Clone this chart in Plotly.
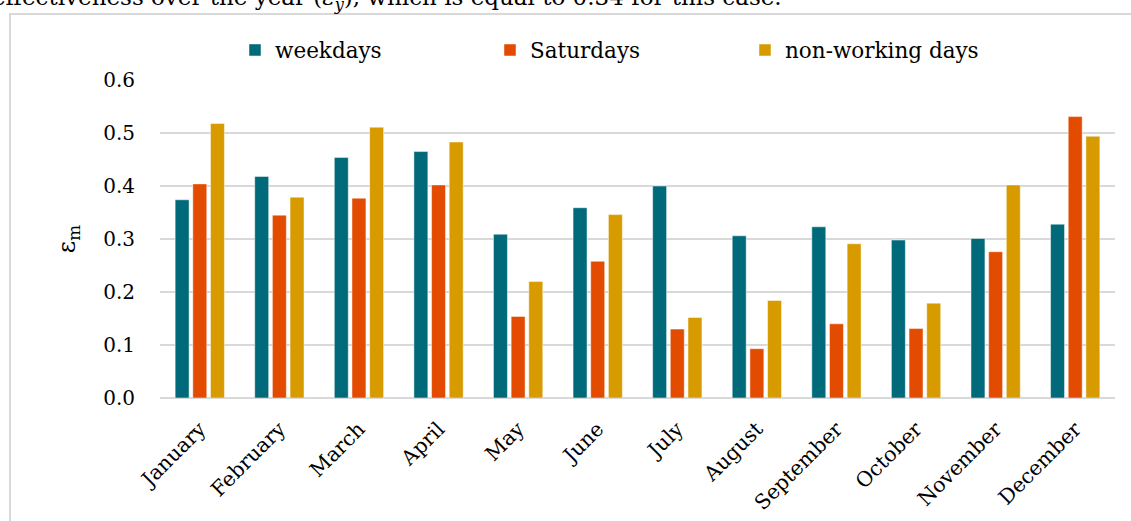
import plotly.graph_objects as go

months = ["January", "February", "March", "April", "May", "June", "July",
          "August", "September", "October", "November", "December"]
weekdays = [0.374, 0.418, 0.454, 0.465, 0.309, 0.359, 0.400, 0.306, 0.323, 0.298, 0.301, 0.328]
saturdays = [0.404, 0.345, 0.377, 0.402, 0.154, 0.258, 0.130, 0.093, 0.140, 0.131, 0.276, 0.531]
nonworking = [0.518, 0.379, 0.511, 0.483, 0.220, 0.346, 0.152, 0.184, 0.291, 0.179, 0.402, 0.494]
y_ticks = [0.0, 0.1, 0.2, 0.3, 0.4, 0.5, 0.6]

FONT = "DejaVu Serif"
W, H = 1131, 521
ML, MR, MT, MB = 160, 16, 80, 123
PW, PH = W - ML - MR, H - MT - MB

def px(x):
    return (x - ML) / PW

def py(y):
    return (H - MB - y) / PH

fig = go.Figure()
for name, vals, col in [("weekdays", weekdays, "#006a7a"),
                        ("Saturdays", saturdays, "#e34b00"),
                        ("non-working days", nonworking, "#d79b00")]:
    fig.add_trace(go.Bar(x=months, y=vals, name=name,
                         marker=dict(color=col, line=dict(color="rgba(255,255,255,0.6)", width=0.8))))

fig.update_layout(
    width=W, height=H,
    margin=dict(l=ML, r=MR, t=MT, b=MB, autoexpand=False),
    paper_bgcolor="white", plot_bgcolor="white",
    font=dict(family=FONT, size=20, color="black"),
    barmode="group", bargap=0.334, bargroupgap=0.21,
    showlegend=True,
    legend=dict(orientation="h", x=px(235), y=py(50), xanchor="left", yanchor="middle",
                entrywidth=210, entrywidthmode="pixels",
                font=dict(family=FONT, size=21.5), bgcolor="rgba(0,0,0,0)", traceorder="normal"),
    xaxis=dict(tickangle=-45, showgrid=False, showline=False, ticks="",
               ticklabelstandoff=14, tickfont=dict(family=FONT, size=20.5)),
    yaxis=dict(range=[0, 0.6], tickvals=y_ticks, ticktext=[f"{v:.1f}" for v in y_ticks],
               showgrid=True, gridcolor="#d9d9d9", gridwidth=1.6,
               zeroline=True, zerolinecolor="#d9d9d9", zerolinewidth=1.6,
               showline=False, ticks="", ticklabelstandoff=24,
               tickfont=dict(family=FONT, size=20),
               title=dict(text="ε<sub>m</sub>", font=dict(family=FONT, size=24), standoff=20)),
)

fig.add_shape(type="rect", xref="paper", yref="paper",
              x0=px(10), x1=px(1145), y0=py(540), y1=py(14),
              line=dict(color="#d9d9d9", width=2), fillcolor="rgba(0,0,0,0)", layer="below")

fig.add_annotation(xref="paper", yref="paper", x=px(-10), y=py(-1),
                   xanchor="left", yanchor="middle", showarrow=False,
                   text="effectiveness over the year (<i>ε<sub>y</sub></i>), which is equal to 0.34 for this case.",
                   font=dict(family=FONT, size=23, color="black"))

fig.write_html("out.html", config={"displayModeBar": False},
               post_script="document.body.style.margin='0';")
